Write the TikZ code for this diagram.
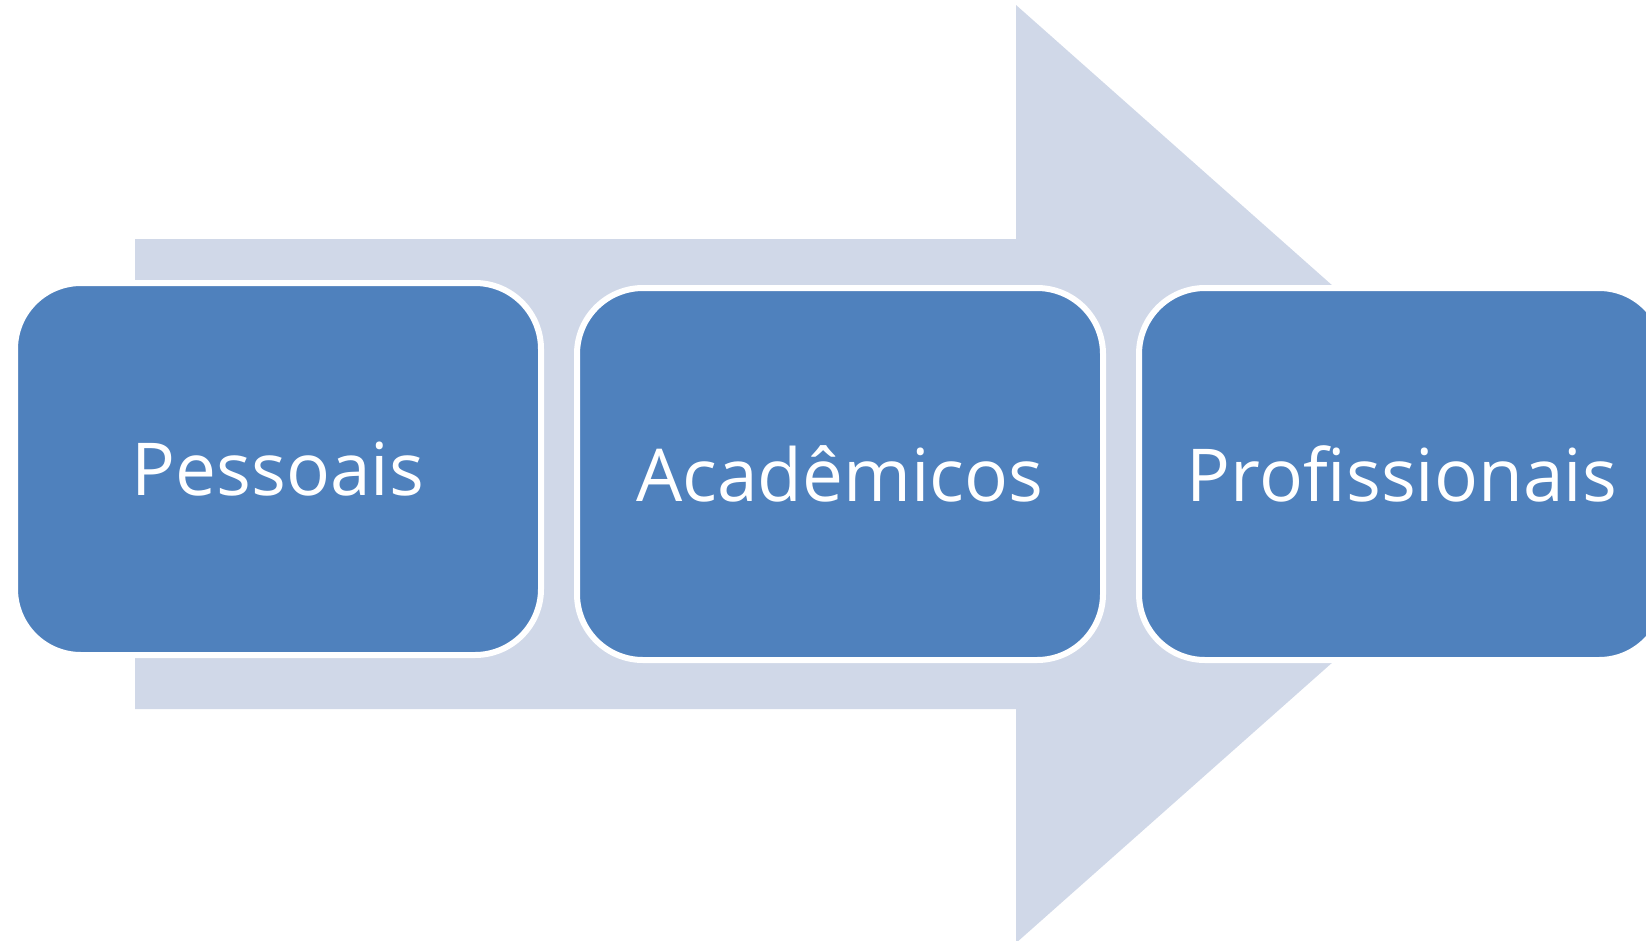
\documentclass[tikz,border=0pt]{standalone}
\usepackage{fontspec}
\setmainfont{Open Sans}[Ligatures=NoCommon]
\usepackage{tikz}
\usetikzlibrary{positioning}
\definecolor{boxblue}{HTML}{4F81BD}
\definecolor{arrowgray}{HTML}{D0D8E8}

\begin{document}
\begin{tikzpicture}[
  x=1pt, y=-1pt,
  node distance=30pt,
  every node/.style={draw=white, line width=6pt, rounded corners=66pt,
    fill=boxblue, minimum width=526pt, minimum height=372pt, text=white,
    font=\fontsize{73}{88}\selectfont},
  bigarrow/.style={fill=arrowgray}
]
  \useasboundingbox (0,0) rectangle (1646,940);
  \clip (0,0) rectangle (1646,940);
  \fill[bigarrow] (135,239) -- (1016,239) -- (1016,5) -- (1545,474)
    -- (1016,943) -- (1016,709) -- (135,709) -- cycle;
  \node (pess) at (278,469) {Pessoais};
  \node[right=of pess, yshift=-5pt] (acad) {Acadêmicos};
  \node[right=of acad] (prof) {Profissionais};
\end{tikzpicture}
\end{document}
